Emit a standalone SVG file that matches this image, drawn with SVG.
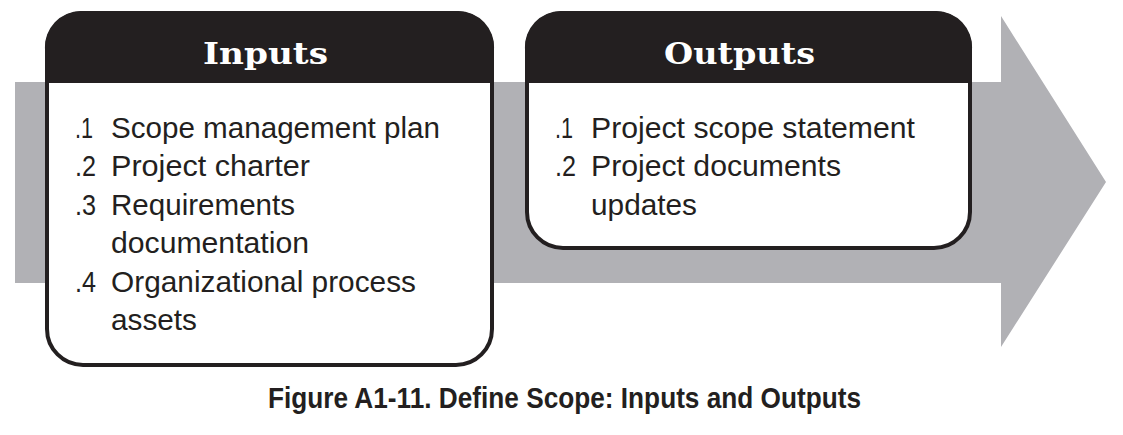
<svg xmlns="http://www.w3.org/2000/svg" width="1123" height="435" viewBox="0 0 1123 435">
<style>
.box{fill:#fff;stroke:#231f20;stroke-width:4}
.hdr{fill:#231f20}
.ht{font-family:"DejaVu Serif",serif;font-weight:bold;font-size:30px;fill:#fff}
.it{font-family:"Liberation Sans",Arial,sans-serif;font-size:29.5px;fill:#231f20}
.cap{font-family:"Liberation Sans",Arial,sans-serif;font-weight:bold;font-size:30px;fill:#231f20}
</style>
<rect width="1123" height="435" fill="#fff"/>
<g id="arrow">
<polygon points="15,82 1001,82 1001,16 1106,182 1001,347 1001,283 15,283" fill="#b1b1b5"/>
</g>
<g id="inputs">
<rect class="box" x="47" y="13" width="445" height="352" rx="36" ry="36"/>
<path class="hdr" d="M45,83 V49 A36,36 0 0 1 81,11 H458 A36,36 0 0 1 494,49 V83 Z"/>
<text class="ht" x="203" y="64" textLength="125" lengthAdjust="spacingAndGlyphs">Inputs</text>
<text class="it" x="75" y="137.5" textLength="18" lengthAdjust="spacingAndGlyphs">.1</text>
<text class="it" x="111" y="137.5" textLength="329" lengthAdjust="spacingAndGlyphs">Scope management plan</text>
<text class="it" x="75" y="176" textLength="21" lengthAdjust="spacingAndGlyphs">.2</text>
<text class="it" x="111" y="176" textLength="199" lengthAdjust="spacingAndGlyphs">Project charter</text>
<text class="it" x="75" y="214.5" textLength="21" lengthAdjust="spacingAndGlyphs">.3</text>
<text class="it" x="111" y="214.5" textLength="184" lengthAdjust="spacingAndGlyphs">Requirements</text>
<text class="it" x="111" y="253" textLength="198" lengthAdjust="spacingAndGlyphs">documentation</text>
<text class="it" x="75" y="291.5" textLength="21" lengthAdjust="spacingAndGlyphs">.4</text>
<text class="it" x="111" y="291.5" textLength="305" lengthAdjust="spacingAndGlyphs">Organizational process</text>
<text class="it" x="111" y="330" textLength="86" lengthAdjust="spacingAndGlyphs">assets</text>
</g>
<g id="outputs">
<rect class="box" x="527" y="13" width="443" height="235" rx="36" ry="36"/>
<path class="hdr" d="M525,83 V49 A36,36 0 0 1 561,11 H936 A36,36 0 0 1 972,49 V83 Z"/>
<text class="ht" x="664" y="64" textLength="151" lengthAdjust="spacingAndGlyphs">Outputs</text>
<text class="it" x="555" y="137.5" textLength="18" lengthAdjust="spacingAndGlyphs">.1</text>
<text class="it" x="591" y="137.5" textLength="324" lengthAdjust="spacingAndGlyphs">Project scope statement</text>
<text class="it" x="555" y="176" textLength="21" lengthAdjust="spacingAndGlyphs">.2</text>
<text class="it" x="591" y="176" textLength="250" lengthAdjust="spacingAndGlyphs">Project documents</text>
<text class="it" x="591" y="214.5" textLength="106" lengthAdjust="spacingAndGlyphs">updates</text>
</g>
<g id="connectors"></g>
<text class="cap" x="268" y="408" textLength="593" lengthAdjust="spacingAndGlyphs">Figure A1-11. Define Scope: Inputs and Outputs</text>
</svg>
